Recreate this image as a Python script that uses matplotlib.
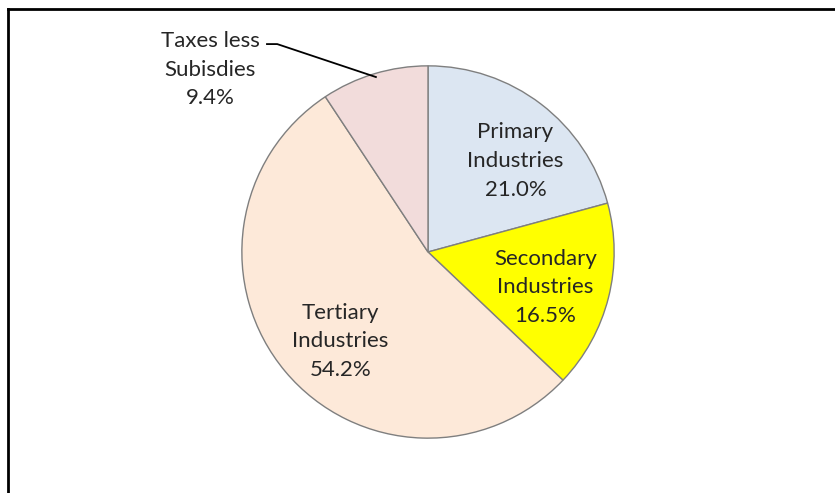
import matplotlib.pyplot as plt
from matplotlib.lines import Line2D

labels = ["Primary\nIndustries", "Secondary\nIndustries", "Tertiary\nIndustries", "Taxes less\nSubisdies"]
shares = [21.0, 16.5, 54.2, 9.4]
colors = ["#dce6f2", "#ffff00", "#fde9d9", "#f2dcdb"]
# label centres, in units of the pie radius
label_pos = [(0.47, 0.49), (0.63, -0.19), (-0.47, -0.48), (-1.17, 0.98)]

plt.rcParams["font.family"] = ["Lato", "DejaVu Sans"]

fig = plt.figure(figsize=(8.35, 4.93), dpi=100)
ax = fig.add_axes([240 / 835, 53 / 493, 376 / 835, 376 / 493])

wedges, _ = ax.pie(shares, colors=colors, startangle=90, counterclock=False,
                   radius=1.0, wedgeprops=dict(edgecolor="#7f7f7f", linewidth=1.0))
ax.set_xlim(-1.01, 1.01)
ax.set_ylim(-1.01, 1.01)
ax.set_aspect("equal")
ax.axis("off")

for lab, val, (x, y) in zip(labels, shares, label_pos):
    ax.text(x, y, f"{lab}\n{val:.1f}%", ha="center", va="center", fontsize=16,
            color="#262626", linespacing=1.55, clip_on=False)

# leader line for the taxes label
ax.plot([-0.865, -0.81, -0.28], [1.117, 1.117, 0.94], color="black", lw=1.3, clip_on=False)

# outer frame (top and left only visible)
fig.add_artist(Line2D([8 / 835, 8 / 835], [0, 1 - 9 / 493], color="black", lw=2))
fig.add_artist(Line2D([8 / 835, 1], [1 - 9 / 493, 1 - 9 / 493], color="black", lw=2))

fig.savefig("out.png", dpi=100)
